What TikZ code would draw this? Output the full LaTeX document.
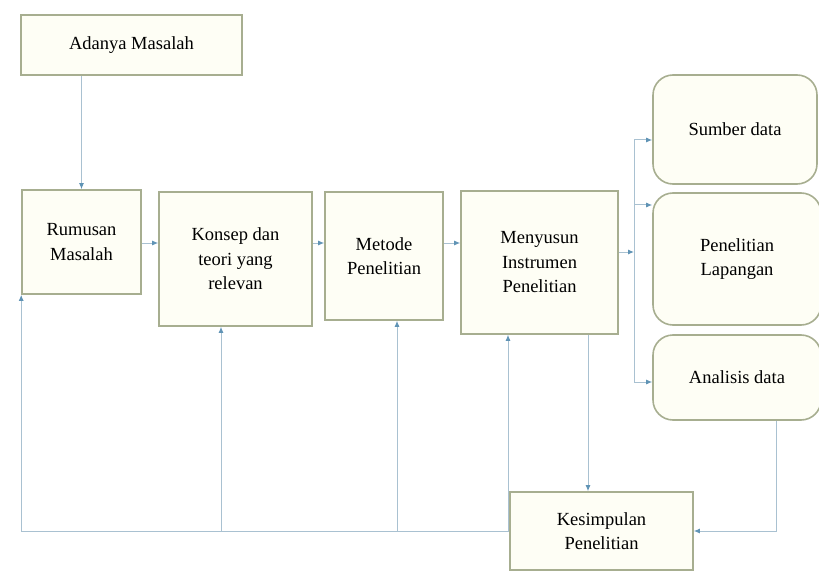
\documentclass[tikz,border=0pt]{standalone}
\usepackage{fontspec}
\setmainfont{Liberation Serif}
\usetikzlibrary{arrows.meta}
\definecolor{boxline}{HTML}{A7AE90}
\definecolor{boxfill}{HTML}{FEFEF5}
\definecolor{conn}{HTML}{A9C1D1}
\definecolor{tip}{HTML}{5F93B5}
\tikzset{
  box/.style={draw=boxline, line width=1.6pt, fill=boxfill, align=center, inner sep=0pt,
    font=\fontsize{18.5}{24.5}\selectfont},
  rbox/.style={box, rounded corners=20pt},
  conline/.style={draw=conn, line width=1pt},
  arr/.style={conline, -{Latex[length=6pt,width=5pt,color=tip]}}
}
\begin{document}
\begin{tikzpicture}[x=1pt,y=-1pt]
\useasboundingbox (0,0) rectangle (819,572);
\node[box, minimum width=221pt, minimum height=60pt] (adanya) at (131.5,45) {Adanya Masalah};
\node[box, minimum width=119pt, minimum height=104pt] (rumusan) at (81.5,242) {Rumusan\\Masalah};
\node[box, minimum width=153pt, minimum height=134pt] (konsep) at (235.5,259) {Konsep dan\\teori yang\\relevan};
\node[box, minimum width=118pt, minimum height=128pt] (metode) at (384,256) {Metode\\Penelitian};
\node[box, minimum width=157pt, minimum height=143pt] (menyusun) at (539.5,262.5) {Menyusun\\Instrumen\\Penelitian};
\node[rbox, minimum width=164pt, minimum height=109pt] (sumber) at (735,129.5) {Sumber data};
\node[rbox, minimum width=168pt, minimum height=132pt] (lapangan) at (737,259) {Penelitian\\Lapangan};
\node[rbox, minimum width=168pt, minimum height=85pt] (analisis) at (737,377.5) {Analisis data};
\node[box, minimum width=183pt, minimum height=78pt] (kesimpulan) at (601.5,531) {Kesimpulan\\Penelitian};

% main flow
\draw[arr] (adanya.south -| rumusan.north) -- (rumusan.north);
\draw[arr] (rumusan.east |- 0,243) -- (konsep.west |- 0,243);
\draw[arr] (konsep.east |- 0,243) -- (metode.west |- 0,243);
\draw[arr] (metode.east |- 0,243) -- (menyusun.west |- 0,243);

% bus to right boxes
\coordinate (bt) at (634,140);
\coordinate (bm) at (634,205);
\coordinate (bb) at (634,382);
\draw[conline] (bt) -- (bb);
\draw[arr] (menyusun.east |- 0,252) -- (634,252);
\draw[arr] (bt) -- (bt -| sumber.west);
\draw[arr] (bm) -- (bm -| lapangan.west);
\draw[arr] (bb) -- (bb -| analisis.west);

% down to conclusion
\coordinate (d1) at (588,0);
\draw[arr] (d1 |- menyusun.south) -- (d1 |- kesimpulan.north);

% analisis back to conclusion
\coordinate (r1) at (776,0);
\draw[arr] (r1 |- analisis.south) -- (r1 |- kesimpulan.east) -- (kesimpulan.east);

% feedback along bottom
\draw[arr] (kesimpulan.west) -- (rumusan.south west |- kesimpulan.west) -- (rumusan.south west);
\coordinate (f1) at (221,531);
\coordinate (f2) at (397,531);
\coordinate (f3) at (508,531);
\draw[arr] (f1) -- (f1 |- konsep.south);
\draw[arr] (f2) -- (f2 |- metode.south);
\draw[arr] (f3) -- (f3 |- menyusun.south);
\end{tikzpicture}
\end{document}
